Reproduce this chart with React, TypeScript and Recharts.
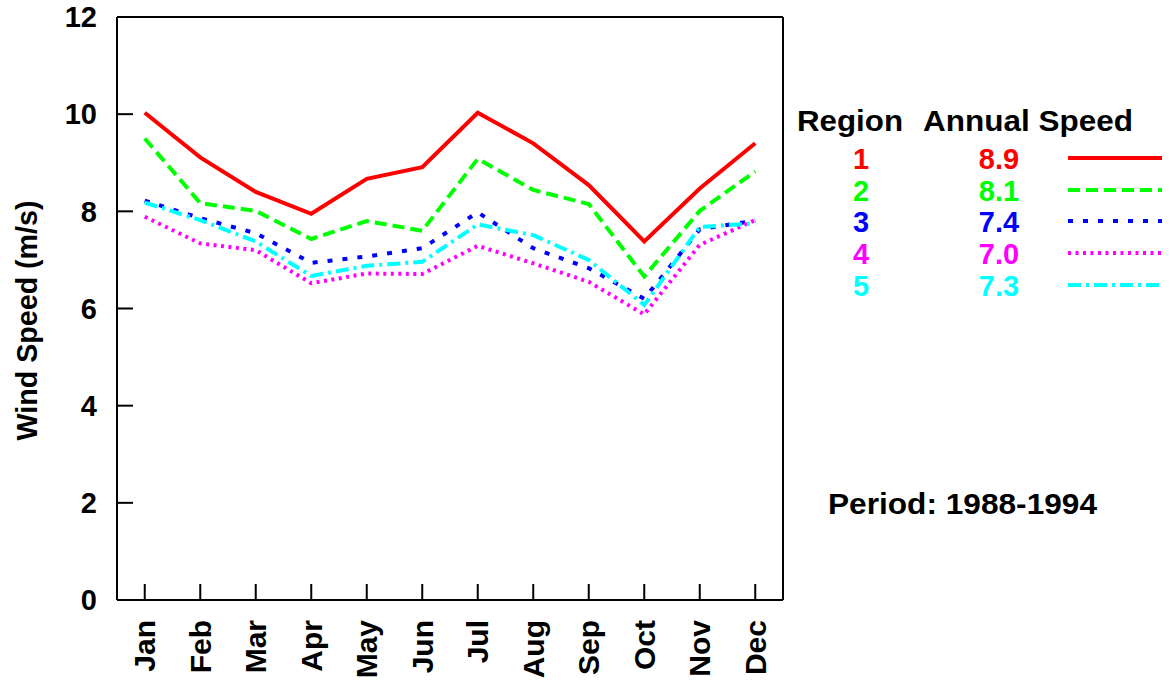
import React from 'react';
import { LineChart, Line, XAxis, YAxis, Legend } from 'recharts';

const FONT = '"Liberation Sans", Arial, Helvetica, sans-serif';

const months = ['Jan', 'Feb', 'Mar', 'Apr', 'May', 'Jun', 'Jul', 'Aug', 'Sep', 'Oct', 'Nov', 'Dec'];
const monthIndex = [1, 2, 3, 4, 5, 6, 7, 8, 9, 10, 11, 12];
const yTicks = [0, 2, 4, 6, 8, 10, 12];

const region1 = [10.03, 9.11, 8.4, 7.95, 8.67, 8.91, 10.03, 9.4, 8.54, 7.38, 8.47, 9.4];
const region2 = [9.5, 8.17, 8.01, 7.43, 7.8, 7.6, 9.08, 8.44, 8.15, 6.66, 8.01, 8.82];
const region3 = [8.22, 7.86, 7.55, 6.94, 7.07, 7.24, 7.98, 7.24, 6.83, 6.2, 7.63, 7.81];
const region4 = [7.89, 7.34, 7.2, 6.52, 6.72, 6.71, 7.29, 6.93, 6.55, 5.88, 7.31, 7.82];
const region5 = [8.18, 7.82, 7.38, 6.67, 6.88, 6.96, 7.73, 7.51, 7.0, 6.07, 7.68, 7.75];

const regionNames = ['1', '2', '3', '4', '5'];
const annualSpeeds = ['8.9', '8.1', '7.4', '7.0', '7.3'];
const regionKeys = ['r1', 'r2', 'r3', 'r4', 'r5'];
const regionColors = ['#ff0000', '#00ff00', '#0000ff', '#ff00ff', '#00ffff'];
const regionDashes = ['0', '12 6', '5 10', '3 4.5', '13 5 3 5'];
const periodText = 'Period: 1988-1994';

const data = monthIndex.map((m, i) => ({
  m,
  r1: region1[i],
  r2: region2[i],
  r3: region3[i],
  r4: region4[i],
  r5: region5[i],
}));

const MonthTick = (props: any) => {
  const { x, y, payload } = props;
  return (
    <text
      x={0}
      y={0}
      transform={`translate(${x},${y}) rotate(-90)`}
      textAnchor="end"
      dy="0.35em"
      fontSize={30}
      fontWeight="bold"
      fontFamily={FONT}
      fill="#000"
    >
      {months[payload.value - 1]}
    </text>
  );
};

const YLabel = (p: any) => {
  const vb = p.viewBox || { x: 0, y: 16, width: 117, height: 584 };
  return (
    <text
      transform={`translate(${vb.x + 37},${vb.y + vb.height / 2 + 12}) rotate(-90)`}
      textAnchor="middle"
      fontSize={29}
      fontWeight="bold"
      fontFamily={FONT}
      fill="#000"
      textLength={240}
      lengthAdjust="spacingAndGlyphs"
    >
      Wind Speed (m/s)
    </text>
  );
};

const LegendBox = () => {
  const rowBase = [79, 111, 142, 174, 206];
  return (
    <svg width={380} height={440} style={{ display: 'block', overflow: 'visible' }}>
      <g fontFamily={FONT} fontWeight="bold" fontSize={29}>
        <text x={7} y={41} fill="#000" textLength={106} lengthAdjust="spacingAndGlyphs">Region</text>
        <text x={133} y={41} fill="#000" textLength={210} lengthAdjust="spacingAndGlyphs">Annual Speed</text>
        {regionNames.map((n, i) => (
          <g key={n}>
            <text x={71} y={rowBase[i]} textAnchor="middle" fill={regionColors[i]}>{n}</text>
            <text x={209} y={rowBase[i]} textAnchor="middle" fill={regionColors[i]}>{annualSpeeds[i]}</text>
            <line
              x1={278}
              x2={372}
              y1={rowBase[i] - 11}
              y2={rowBase[i] - 11}
              stroke={regionColors[i]}
              strokeWidth={4}
              strokeDasharray={regionDashes[i]}
            />
          </g>
        ))}
        <text x={38} y={424} fill="#000" textLength={269} lengthAdjust="spacingAndGlyphs">{periodText}</text>
      </g>
    </svg>
  );
};

const axisStroke = { stroke: '#000', strokeWidth: 2 };

export default function App() {
  return (
    <div style={{ position: 'absolute', left: 0, top: 0, width: 1170, height: 682, background: '#fff' }}>
      <LineChart width={1170} height={682} data={data} margin={{ top: 16, right: 386, bottom: 0, left: 0 }}>
        <XAxis
          xAxisId={0}
          dataKey="m"
          type="number"
          domain={[0.5, 12.5]}
          allowDataOverflow
          ticks={monthIndex}
          height={82}
          tickSize={-16}
          tickMargin={36}
          axisLine={axisStroke}
          tickLine={axisStroke}
          tick={<MonthTick />}
          interval={0}
        />
        <XAxis
          xAxisId="top"
          orientation="top"
          dataKey="m"
          type="number"
          domain={[0.5, 12.5]}
          allowDataOverflow
          ticks={monthIndex}
          height={1}
          tickSize={-16}
          axisLine={axisStroke}
          tickLine={axisStroke}
          tick={false}
          interval={0}
        />
        <YAxis
          yAxisId={0}
          type="number"
          domain={[0, 12]}
          ticks={yTicks}
          width={117}
          tickSize={-16}
          tickMargin={36}
          axisLine={axisStroke}
          tickLine={axisStroke}
          interval={0}
          tick={{ fontSize: 29, fontWeight: 'bold', fill: '#000', fontFamily: FONT }}
          label={YLabel}
        />
        <YAxis
          yAxisId="right"
          orientation="right"
          type="number"
          domain={[0, 12]}
          ticks={yTicks}
          width={1}
          tickSize={-16}
          axisLine={axisStroke}
          tickLine={axisStroke}
          tick={false}
          interval={0}
        />
        {regionKeys.map((k, i) => (
          <Line
            key={k}
            type="linear"
            dataKey={k}
            stroke={regionColors[i]}
            strokeWidth={4}
            strokeDasharray={regionDashes[i] === '0' ? undefined : regionDashes[i]}
            dot={false}
            activeDot={false}
            isAnimationActive={false}
          />
        ))}
        <Legend
          verticalAlign="middle"
          align="center"
          layout="horizontal"
          wrapperStyle={{ left: 790, top: 90, width: 380, height: 440 }}
          content={() => <LegendBox />}
        />
      </LineChart>
    </div>
  );
}
